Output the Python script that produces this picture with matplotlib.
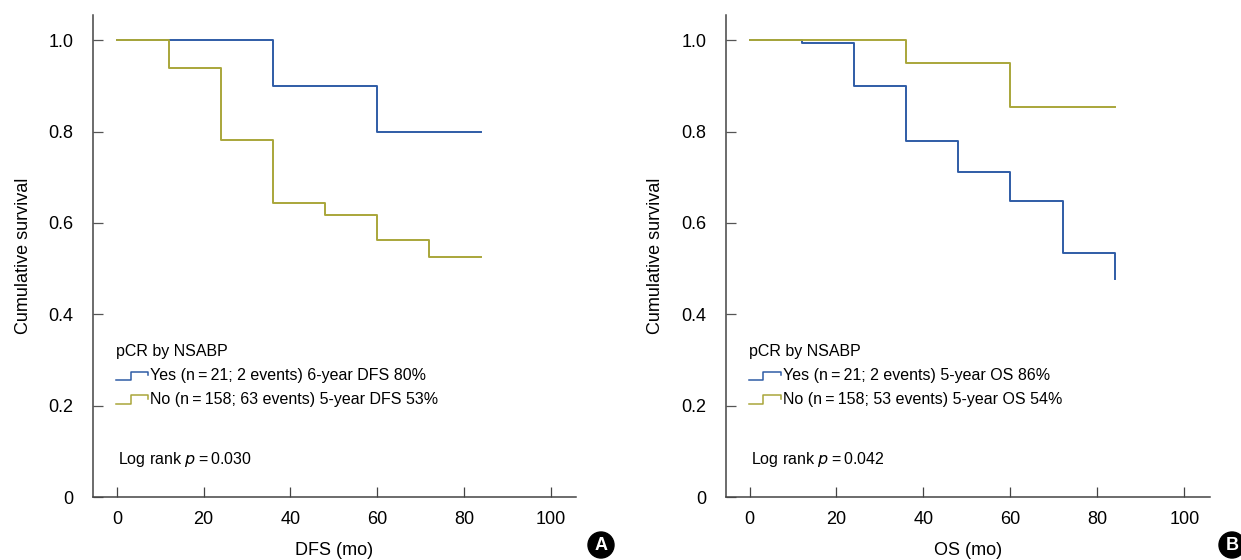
import matplotlib.pyplot as plt
from matplotlib.legend_handler import HandlerBase
from matplotlib.lines import Line2D
from matplotlib.patches import Circle

plt.rcParams['font.family'] = ['Liberation Sans Narrow', 'Liberation Sans', 'DejaVu Sans']

# 数据: 月份和生存率 (阶梯)
dfs_yes_t = [0, 36, 60, 84]
dfs_yes_s = [1.0, 0.90, 0.80, 0.80]
dfs_no_t = [0, 12, 24, 36, 48, 60, 72, 84]
dfs_no_s = [1.0, 0.94, 0.782, 0.643, 0.618, 0.563, 0.525, 0.525]

os_yes_t = [0, 12, 24, 36, 48, 60, 72, 84, 84]
os_yes_s = [1.0, 0.993, 0.899, 0.779, 0.711, 0.647, 0.534, 0.534, 0.477]
os_no_t = [0, 36, 60, 84]
os_no_s = [1.0, 0.951, 0.853, 0.853]

xticks = [0, 20, 40, 60, 80, 100]
yticks = [0, 0.2, 0.4, 0.6, 0.8, 1.0]
ytick_labels = ["0", "0.2", "0.4", "0.6", "0.8", "1.0"]

dfs_labels = ["Yes (n\u2009=\u200921; 2 events) 6-year DFS 80%",
              "No (n\u2009=\u2009158; 63 events) 5-year DFS 53%"]
os_labels = ["Yes (n\u2009=\u200921; 2 events) 5-year OS 86%",
             "No (n\u2009=\u2009158; 53 events) 5-year OS 54%"]

BLUE = "#2f5ca6"
YELLOW = "#a9a63a"


# 图例里的阶梯形小图标
class StepHandler(HandlerBase):
    def create_artists(self, legend, orig_handle, xdescent, ydescent,
                       width, height, fontsize, trans):
        x0 = -xdescent
        y0 = -ydescent
        xs = [x0, x0 + width * 0.45, x0 + width * 0.45, x0 + width, x0 + width]
        ys = [y0 + height * 0.05, y0 + height * 0.05, y0 + height * 0.8,
              y0 + height * 0.8, y0 + height * 0.45]
        line = Line2D(xs, ys, color=orig_handle.get_color(), lw=1.1, transform=trans)
        return [line]


def draw_panel(ax, yes_t, yes_s, no_t, no_s, labels, xlabel, ptext):
    h1, = ax.step(yes_t, yes_s, where='post', color=BLUE, lw=1.4)
    h2, = ax.step(no_t, no_s, where='post', color=YELLOW, lw=1.4)

    ax.set_xlim(-5.5, 105.8)
    ax.set_ylim(0, 1.055)
    ax.set_xticks(xticks)
    ax.set_yticks(yticks)
    ax.set_yticklabels(ytick_labels)
    ax.spines['top'].set_visible(False)
    ax.spines['right'].set_visible(False)
    for s in ['left', 'bottom']:
        ax.spines[s].set_color('#444444')
        ax.spines[s].set_linewidth(1.1)
    ax.tick_params(axis='x', direction='in', length=7, width=0.9, color='#444444',
                   labelsize=13, pad=10)
    ax.tick_params(axis='y', direction='in', length=7, width=0.9, color='#555555',
                   labelsize=13, pad=14)
    ax.set_xlabel(xlabel, fontsize=13, labelpad=10)
    ax.set_ylabel("Cumulative survival", fontsize=13, labelpad=12)

    leg = ax.legend([h1, h2], labels, title="pCR by NSABP", loc='upper left',
                    bbox_to_anchor=(0.048, 0.318), frameon=False, fontsize=11.5,
                    title_fontsize=11.5, alignment='left', handlelength=2.0,
                    handletextpad=0.15, labelspacing=0.55, borderpad=0,
                    borderaxespad=0, handler_map={Line2D: StepHandler()})
    leg._legend_box.sep = 7

    ax.text(0.052, 0.077, ptext, transform=ax.transAxes, fontsize=11.5, va='center')


fig = plt.figure(figsize=(12.41, 5.6), dpi=100)
ax1 = fig.add_axes([0.0749, 0.1125, 0.3892, 0.8605])
ax2 = fig.add_axes([0.5847, 0.1125, 0.3900, 0.8605])

draw_panel(ax1, dfs_yes_t, dfs_yes_s, dfs_no_t, dfs_no_s, dfs_labels, "DFS (mo)",
           "Log rank $\\it{p}$\u2009=\u20090.030")
draw_panel(ax2, os_yes_t, os_yes_s, os_no_t, os_no_s, os_labels, "OS (mo)",
           "Log rank $\\it{p}$\u2009=\u20090.042")

# 面板标号 A / B
for cx, letter in [(601, "A"), (1232, "B")]:
    fx = cx / 1241
    fy = 1 - 545 / 560
    circ = Circle((fx * 12.41, fy * 5.6), 0.13, transform=fig.dpi_scale_trans,
                  color='black', zorder=10)
    fig.patches.append(circ)
    fig.text(fx, fy, letter, color='white', fontsize=13, fontweight='bold',
             ha='center', va='center', zorder=11, family=['Liberation Sans', 'DejaVu Sans'])

fig.savefig("out.png", dpi=100)
